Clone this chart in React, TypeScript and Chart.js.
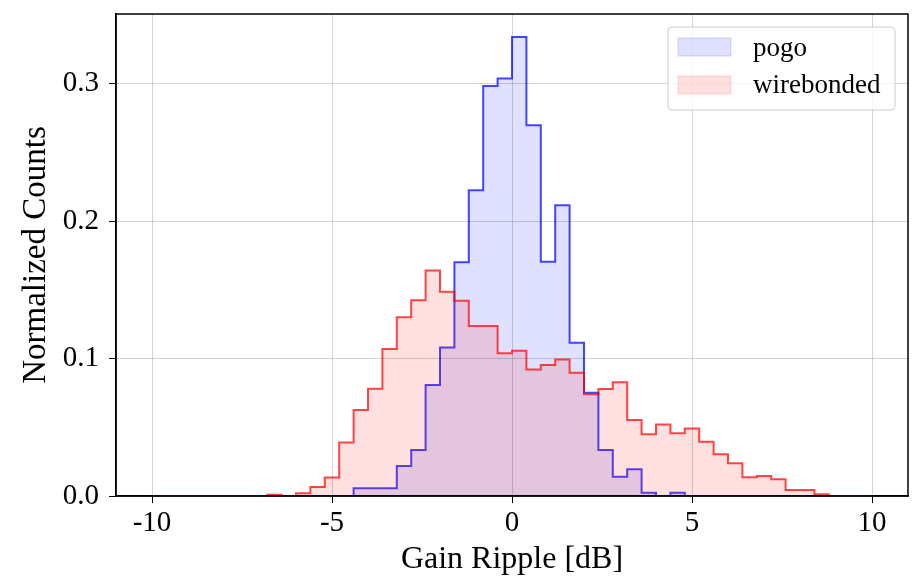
import React, { useEffect, useRef } from "react";
import { Chart, registerables } from "chart.js";

Chart.register(...registerables);

// Histogram bin edges (dB)
const binEdges = [
  -10, -9.6, -9.2, -8.8, -8.4, -8, -7.6, -7.2, -6.8, -6.4,
  -6, -5.6, -5.2, -4.8, -4.4, -4, -3.6, -3.2, -2.8, -2.4,
  -2, -1.6, -1.2, -0.8, -0.4, 0, 0.4, 0.8, 1.2, 1.6,
  2, 2.4, 2.8, 3.2, 3.6, 4, 4.4, 4.8, 5.2, 5.6,
  6, 6.4, 6.8, 7.2, 7.6, 8, 8.4, 8.8, 9.2, 9.6, 10,
];

// Normalized counts per bin
const pogo = [
  0, 0, 0, 0, 0, 0, 0, 0, 0, 0,
  0, 0, 0, 0, 0.0056, 0.0056, 0.0056, 0.0218, 0.0335, 0.0807,
  0.108, 0.17, 0.2225, 0.2984, 0.3037, 0.334, 0.2698, 0.1704, 0.2116, 0.1115,
  0.0752, 0.0335, 0.014, 0.0194, 0.0024, 0, 0.0024, 0, 0, 0,
  0, 0, 0, 0, 0, 0, 0, 0, 0, 0,
];

const wirebonded = [
  0, 0, 0, 0, 0, 0, 0, 0, 0.001, 0,
  0.002, 0.0065, 0.0135, 0.039, 0.0625, 0.078, 0.107, 0.13, 0.1425, 0.164,
  0.1486, 0.142, 0.1236, 0.1236, 0.1038, 0.1057, 0.092, 0.0953, 0.0994, 0.0897,
  0.074, 0.0778, 0.0827, 0.0553, 0.0449, 0.052, 0.0456, 0.0492, 0.0395, 0.0303,
  0.0238, 0.0136, 0.0145, 0.0121, 0.0044, 0.0044, 0.0012, 0, 0, 0,
];

const seriesLabels = ["pogo", "wirebonded"];
const xTicks = [-10, -5, 0, 5, 10];
const yTicks = [0, 0.1, 0.2, 0.3];

const FONT = "'Liberation Serif', 'DejaVu Serif', serif";

const blueLine = "rgba(0,0,255,0.72)";
const blueFill = "rgba(0,0,255,0.12)";
const redLine = "rgba(255,0,0,0.72)";
const redFill = "rgba(255,0,0,0.12)";

function stepPoints(values: number[]) {
  const pts = values.map((v, i) => ({ x: binEdges[i], y: v }));
  pts.push({ x: binEdges[values.length], y: 0 });
  return pts;
}

const framePlugin = {
  id: "frame",
  afterDatasetsDraw(chart: any) {
    const { ctx, chartArea } = chart;
    ctx.save();
    ctx.strokeStyle = "black";
    ctx.lineWidth = 1.5;
    ctx.strokeRect(chartArea.left, chartArea.top, chartArea.right - chartArea.left, chartArea.bottom - chartArea.top);
    ctx.restore();
  },
};

const legendPlugin = {
  id: "innerLegend",
  afterDraw(chart: any) {
    const { ctx } = chart;
    ctx.save();
    const x = 668, y = 27, w = 227, h = 83, r = 4;
    ctx.beginPath();
    ctx.moveTo(x + r, y);
    ctx.lineTo(x + w - r, y);
    ctx.quadraticCurveTo(x + w, y, x + w, y + r);
    ctx.lineTo(x + w, y + h - r);
    ctx.quadraticCurveTo(x + w, y + h, x + w - r, y + h);
    ctx.lineTo(x + r, y + h);
    ctx.quadraticCurveTo(x, y + h, x, y + h - r);
    ctx.lineTo(x, y + r);
    ctx.quadraticCurveTo(x, y, x + r, y);
    ctx.closePath();
    ctx.fillStyle = "rgba(255,255,255,0.8)";
    ctx.fill();
    ctx.strokeStyle = "#cccccc";
    ctx.lineWidth = 1;
    ctx.stroke();

    const items = [
      { label: seriesLabels[0], fill: blueFill, edge: "rgba(0,0,255,0.1)", py: 38, ty: 56 },
      { label: seriesLabels[1], fill: redFill, edge: "rgba(255,0,0,0.1)", py: 76, ty: 93 },
    ];
    for (const it of items) {
      ctx.fillStyle = it.fill;
      ctx.fillRect(678, it.py, 53, 18);
      ctx.strokeStyle = it.edge;
      ctx.lineWidth = 1.5;
      ctx.strokeRect(678, it.py, 53, 18);
      ctx.fillStyle = "black";
      ctx.font = `27px ${FONT}`;
      ctx.textBaseline = "alphabetic";
      ctx.textAlign = "left";
      ctx.fillText(it.label, 753, it.ty);
    }
    ctx.restore();
  },
};

function noPadding(s: any) {
  s.paddingTop = 0;
  s.paddingBottom = 0;
  s.paddingLeft = 0;
  s.paddingRight = 0;
}

export default function App() {
  const ref = useRef<HTMLCanvasElement>(null);

  useEffect(() => {
    if (!ref.current) return;
    const chart = new Chart(ref.current, {
      type: "line",
      data: {
        datasets: [
          {
            label: seriesLabels[0],
            data: stepPoints(pogo),
            stepped: "before",
            borderColor: blueLine,
            backgroundColor: blueFill,
            fill: "origin",
            pointRadius: 0,
            borderWidth: 2,
            order: 1,
          },
          {
            label: seriesLabels[1],
            data: stepPoints(wirebonded),
            stepped: "before",
            borderColor: redLine,
            backgroundColor: redFill,
            fill: "origin",
            pointRadius: 0,
            borderWidth: 2,
            order: 0,
          },
        ],
      },
      options: {
        responsive: false,
        animation: false,
        devicePixelRatio: 1,
        layout: { padding: { top: 14, right: 6, left: 0, bottom: 0 } },
        plugins: {
          legend: { display: false },
          tooltip: { enabled: false },
        },
        scales: {
          x: {
            type: "linear",
            min: -11,
            max: 11,
            afterBuildTicks: (s: any) => {
              s.ticks = xTicks.map((v) => ({ value: v }));
            },
            afterFit: (s: any) => {
              s.height = 80;
              noPadding(s);
            },
            ticks: {
              font: { family: FONT, size: 29 },
              color: "black",
              padding: 3,
              maxRotation: 0,
              autoSkip: false,
              callback: (v: any) => String(v),
            },
            grid: {
              color: "rgba(176,176,176,0.55)",
              lineWidth: 1,
              tickColor: "black",
              tickLength: 7,
            },
            border: { display: true, color: "black", width: 1.5 },
            title: {
              display: true,
              text: "Gain Ripple [dB]",
              font: { family: FONT, size: 32 },
              color: "black",
              padding: { top: 0, bottom: -3 },
            },
          },
          y: {
            type: "linear",
            min: 0,
            max: 0.3507,
            afterBuildTicks: (s: any) => {
              s.ticks = yTicks.map((v) => ({ value: v }));
            },
            afterFit: (s: any) => {
              s.width = 116;
              noPadding(s);
            },
            ticks: {
              font: { family: FONT, size: 29 },
              color: "black",
              padding: 10,
              autoSkip: false,
              callback: (v: any) => Number(v).toFixed(1),
            },
            grid: {
              color: "rgba(176,176,176,0.55)",
              lineWidth: 1,
              tickColor: "black",
              tickLength: 7,
            },
            border: { display: true, color: "black", width: 1.5 },
            title: {
              display: true,
              text: "Normalized Counts",
              font: { family: FONT, size: 33 },
              color: "black",
              padding: { top: 17, bottom: 0 },
            },
          },
        },
      },
      plugins: [framePlugin, legendPlugin],
    } as any);
    return () => chart.destroy();
  }, []);

  return (
    <div style={{ position: "absolute", left: 0, top: 0, width: 914, height: 576 }}>
      <canvas ref={ref} width={914} height={576} style={{ display: "block" }} />
    </div>
  );
}
